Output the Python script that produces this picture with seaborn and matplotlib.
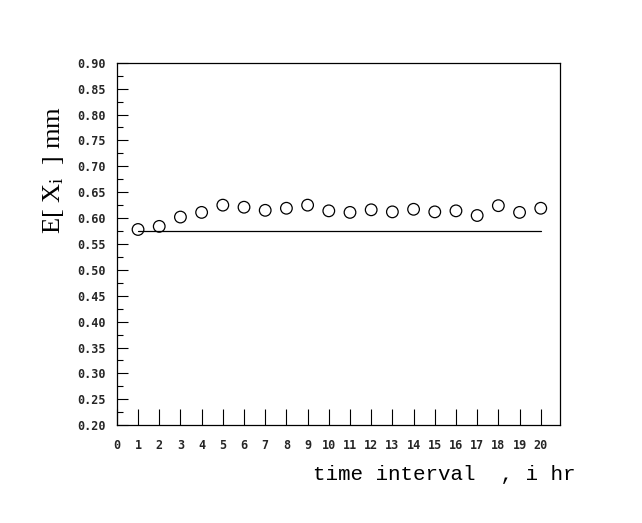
import numpy as np
import pandas as pd
import matplotlib
matplotlib.use("Agg")
import matplotlib.pyplot as plt
import seaborn as sns
from matplotlib.ticker import MultipleLocator

# Expected wear per interval
intervals = list(range(1, 21))
expected_wear = [0.578, 0.584, 0.602, 0.611, 0.625, 0.621, 0.615, 0.619, 0.625, 0.614,
                 0.611, 0.616, 0.612, 0.617, 0.612, 0.614, 0.605, 0.624, 0.611, 0.619]
# Reference level
reference_level = 0.575

x_tick_values = list(range(0, 21))
y_tick_values = [0.20, 0.25, 0.30, 0.35, 0.40, 0.45, 0.50, 0.55, 0.60, 0.65, 0.70, 0.75, 0.80, 0.85, 0.90]

sns.set_theme(style="white")
plt.rcParams["mathtext.fontset"] = "custom"
plt.rcParams["mathtext.rm"] = "Liberation Serif"
plt.rcParams["mathtext.it"] = "Liberation Serif:italic"

df = pd.DataFrame({"interval": intervals, "wear": expected_wear})
ref = pd.DataFrame({"interval": [intervals[0], intervals[-1]],
                    "wear": [reference_level, reference_level]})

fig = plt.figure(figsize=(6.42, 5.23), dpi=100)
ax = fig.add_axes([0.182, 0.187, 0.690, 0.693])

sns.lineplot(data=ref, x="interval", y="wear", ax=ax, color="black", linewidth=0.9)
sns.scatterplot(data=df, x="interval", y="wear", ax=ax, marker="o", s=70,
                facecolor="none", edgecolor="black", linewidth=0.9)

ax.set_xlim(0, 20.9)
ax.set_ylim(0.20, 0.90)
ax.set_xticks(x_tick_values)
ax.set_xticklabels([str(v) for v in x_tick_values], family="DejaVu Sans Mono",
                   fontsize=8.5, fontweight="bold")
ax.set_yticks(y_tick_values)
ax.set_yticklabels([f"{v:.2f}" for v in y_tick_values], family="DejaVu Sans Mono",
                   fontsize=8.5, fontweight="bold")
ax.yaxis.set_minor_locator(MultipleLocator(0.025))

ax.tick_params(axis="x", which="major", direction="in", length=11.5, width=0.8,
               color="black", pad=10, bottom=True)
ax.tick_params(axis="y", which="major", direction="in", length=8, width=0.8,
               color="black", pad=8, left=True)
ax.tick_params(axis="y", which="minor", direction="in", length=4.3, width=0.8,
               color="black", left=True)

for side in ["left", "right", "top", "bottom"]:
    ax.spines[side].set_visible(True)
    ax.spines[side].set_color("black")
    ax.spines[side].set_linewidth(0.9)

ax.set_xlabel("")
ax.set_ylabel("")
fig.text(313 / 642, 1 - 474 / 523, "time interval  , i hr", family="Liberation Mono",
         fontsize=15, ha="left", va="center", color="black")
fig.text(54 / 642, 1 - 170 / 523, r"E[ X$_{\mathrm{i}}$  ] mm", family="Liberation Serif",
         fontsize=19, rotation=90, ha="center", va="center", color="black")

fig.savefig("out.png", dpi=100, facecolor="white")
